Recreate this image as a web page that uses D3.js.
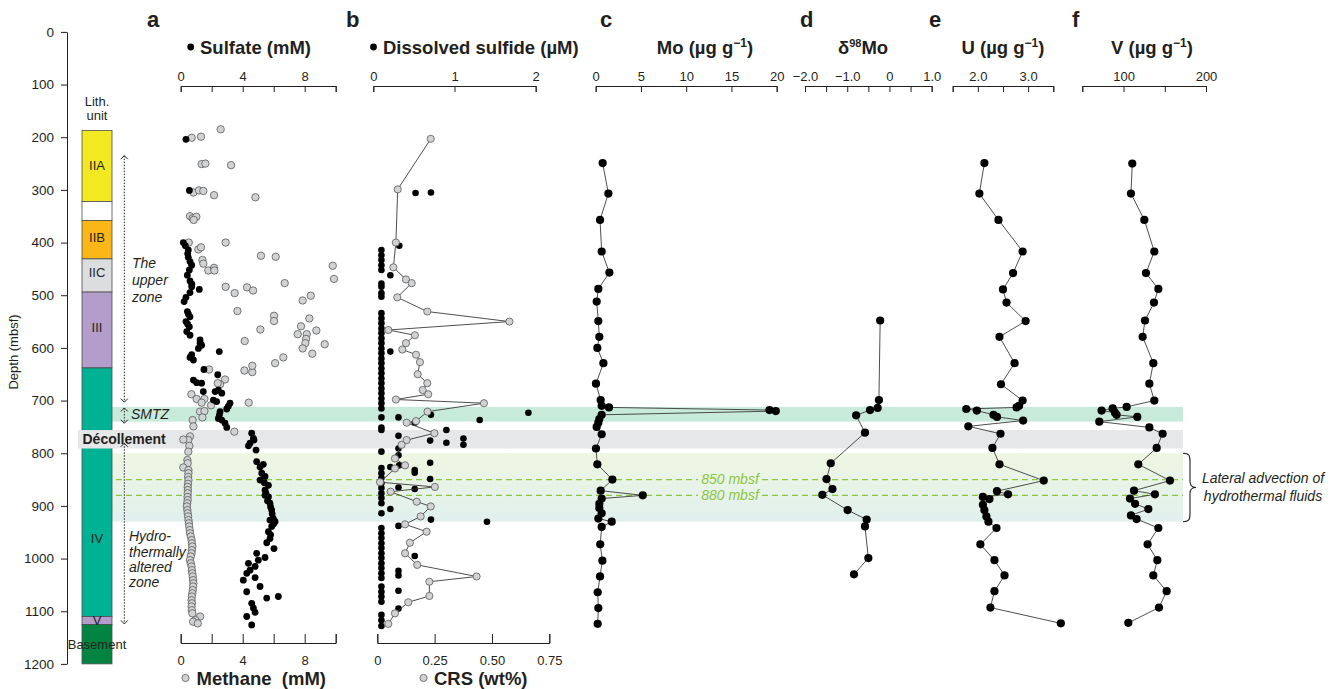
<!DOCTYPE html>
<html>
<head>
<meta charset="utf-8">
<script src="https://cdn.jsdelivr.net/npm/d3@7"></script>
<style>
  body { margin: 0; background: #fff; }
  svg text { font-family: "Liberation Sans", Arial, Helvetica, sans-serif; fill: #231f20; }
  .axis text { font-size: 13px; }
  .axis path, .axis line { stroke: #231f20; stroke-width: 1; }
</style>
</head>
<body>
<svg id="chart" width="1336" height="689"></svg>
<script>
// ---------- data (depth in mbsf) ----------
const depthTicks = [0, 100, 200, 300, 400, 500, 600, 700, 800, 900, 1000, 1100, 1200];

const unitNames = ["IIA", "", "IIB", "IIC", "III", "IV", "V", "Basement"];
const unitTop   = [187, 322, 358, 431, 494, 638, 1110, 1125];
const unitBase  = [322, 358, 431, 494, 638, 1110, 1125, 1200];
const unitLabelDepth = [254, null, 391, 456, 561, 962, 1117, 1163];

const smtzZone = [712, 740];
const decollementZone = [756, 791];
const advectionZone = [800, 930];
const markerDepths = [850, 880];

// panel a : [depth, mM]
const sulfate = [
  [204,0.34],[301,0.56],[400,0.17],[406,0.3],[414,0.49],[421,0.45],[428,0.49],[436,0.6],[443,0.71],
  [452,0.56],[462,0.43],[473,0.6],[479,0.72],[484,0.71],[489,1.2],[495,0.6],[504,0.34],[512,0.22],
  [531,0.43],[536,0.5],[541,0.6],[550,0.34],[555,0.45],[560,0.56],[569,0.39],[576,0.6],[585,1.25],
  [591,1.25],[595,1.35],[601,1.14],[607,2.49],[613,0.71],[618,0.6],[623,0.82],[641,1.5],[651,2.39],
  [661,0.82],[666,1.03],[667,1.35],[680,2.43],[683,1.46],[683,2.22],[686,2.65],[699,2.11],[702,2.32],
  [705,3.18],[711,3.07],[716,2.97],[721,2.54],[727,2.5],[734,2.43],[737,2.65],[743,2.86],[751,2.97],
  [762,4.58],[772,4.69],[775,4.73],[781,4.47],[786,4.37],[794,4.86],[816,4.9],[821,5.33],[826,5.12],
  [838,5.23],[844,5.44],[851,5.12],[856,5.4],[861,5.66],[870,5.44],[876,5.5],[880,5.44],[883,5.66],
  [890,5.6],[895,5.76],[902,5.8],[908,5.87],[915,5.9],[924,5.98],[927,5.76],[930,6.09],[934,6.0],
  [939,5.87],[949,5.66],[955,5.8],[962,5.76],[970,5.55],[981,6.02],[990,4.9],[998,5.44],[1003,5.01],
  [1009,4.37],[1015,4.8],[1022,4.47],[1028,4.26],[1036,4.8],[1041,4.04],[1053,5.12],[1063,4.26],
  [1072,6.3],[1075,5.55],[1085,4.58],[1094,4.69],[1102,4.8],[1110,4.26],[1126,4.58]
];
const methane = [
  [185,2.58],[201,0.71],[199,1.31],[251,1.35],[250,1.59],[253,3.25],[305,0.82],[301,1.18],[302,1.46],
  [310,2.15],[314,4.82],[350,0.6],[354,0.77],[351,1.01],[357,0.84],[400,0.52],[400,2.9],[413,1.14],
  [409,1.31],[425,5.18],[427,6.13],[433,1.4],[440,1.46],[444,9.81],[453,1.78],[448,2.15],[453,2.17],
  [469,9.89],[477,6.71],[484,2.9],[496,3.48],[485,4.28],[491,4.67],[501,8.39],[510,7.87],[530,3.66],
  [539,6.02],[549,6.02],[544,8.3],[565,5.14],[559,7.76],[574,7.55],[574,8.13],[567,8.75],[583,8.09],
  [593,9.29],[587,4.13],[591,8.04],[601,7.87],[618,6.62],[611,8.49],[629,6.09],[643,4.11],[646,4.62],
  [634,4.62],[641,1.83],[660,2.86],[669,2.54],[667,2.39],[688,0.69],[697,1.03],[697,1.53],[704,1.35],
  [704,4.39],[709,1.96],[721,1.25],[720,1.53],[732,1.4],[737,0.77],[749,0.82],[759,3.46],[768,0.6],
  [775,0.49],[774,0.17],[786,0.56],[797,0.49],[813,0.43],[819,0.45],[827,0.17],[832,0.5],[838,0.5],
  [845,0.48],[851,0.5],[858,0.47],[864,0.45],[870,0.46],[876,0.45],[883,0.44],[889,0.45],[895,0.42],
  [901,0.4],[908,0.43],[914,0.45],[920,0.48],[927,0.5],[933,0.53],[939,0.55],[946,0.58],[952,0.6],
  [958,0.65],[965,0.7],[971,0.72],[977,0.75],[984,0.72],[990,0.7],[996,0.65],[1003,0.6],[1009,0.65],
  [1015,0.7],[1022,0.72],[1028,0.75],[1034,0.78],[1041,0.8],[1047,0.82],[1053,0.8],[1060,0.78],
  [1066,0.75],[1072,0.72],[1079,0.7],[1085,0.72],[1091,0.7],[1098,0.72],[1104,0.75],[1110,1.25],
  [1117,0.95],[1120,0.8],[1123,1.1]
];

// panel b : dissolved sulfide [depth, µM] and CRS [depth, wt%]
const sulfide = [
  [305,0.71],[306,0.52],[406,0.32],[414,0.1],[424,0.1],[433,0.1],[443,0.1],[452,0.1],[462,0.21],
  [478,0.1],[484,0.1],[496,0.1],[503,0.1],[534,0.1],[544,0.1],[553,0.1],[563,0.1],[572,0.1],[582,0.1],
  [591,0.1],[601,0.1],[607,0.21],[610,0.1],[620,0.1],[629,0.1],[639,0.1],[648,0.1],[658,0.1],[667,0.1],
  [677,0.1],[686,0.1],[696,0.1],[705,0.1],[715,0.1],[723,1.91],[727,0.71],[732,0.1],[732,0.31],
  [737,1.31],[742,0.51],[751,0.1],[756,0.1],[756,0.9],[767,0.31],[772,1.11],[776,0.7],[780,0.9],
  [784,1.11],[791,0.31],[797,0.1],[804,0.31],[818,0.7],[823,0.32],[826,0.21],[828,0.1],[832,0.51],
  [837,0.51],[838,0.1],[847,0.1],[849,0.7],[857,0.1],[865,0.31],[866,0.1],[868,0.51],[876,0.1],
  [885,0.1],[895,0.1],[906,0.21],[914,0.1],[926,0.71],[930,1.4],[938,0.31],[942,0.1],[952,0.1],
  [961,0.1],[971,0.1],[980,0.1],[990,0.1],[995,0.51],[999,0.1],[1009,0.1],[1018,0.1],[1023,0.31],
  [1028,0.1],[1032,0.31],[1037,0.1],[1053,0.1],[1061,0.31],[1063,0.1],[1072,0.1],[1082,0.1],
  [1095,0.31],[1107,0.1],[1117,0.1],[1128,0.1]
];
const crs = [
  [203,0.233],[299,0.089],[400,0.081],[447,0.07],[470,0.125],[477,0.15],[504,0.087],[531,0.218],
  [550,0.576],[566,0.048],[576,0.164],[591,0.125],[603,0.109],[613,0.169],[627,0.186],[650,0.176],
  [667,0.218],[680,0.198],[688,0.222],[698,0.081],[705,0.465],[721,0.219],[739,0.169],[742,0.128],
  [762,0.249],[775,0.128],[784,0.106],[810,0.077],[823,0.121],[829,0.077],[855,0.012],[864,0.251],
  [873,0.058],[892,0.172],[901,0.233],[920,0.189],[935,0.121],[949,0.215],[970,0.142],[990,0.121],
  [1012,0.174],[1034,0.433],[1044,0.227],[1071,0.227],[1083,0.135],[1104,0.077],[1124,0.048]
];

// panels c-f
const mo = [
  [249,0.77],[307,1.4],[357,0.48],[417,0.66],[457,1.51],[488,0.29],[512,0.11],[549,0.29],[579,0.4],
  [600,0.18],[629,0.85],[668,0.03],[699,0.55],[710,0.66],[713,1.47],[718,19.2],[720,19.9],[727,0.66],
  [735,0.4],[742,0.29],[750,0.11],[764,0.66],[791,0.03],[821,0.18],[850,1.84],[871,0.55],[880,5.2],
  [886,0.66],[896,0.4],[904,0.4],[914,0.66],[924,0.29],[930,1.77],[940,0.66],[973,0.5],[1004,0.74],
  [1034,0.48],[1064,0.22],[1094,0.29],[1124,0.22]
];
const d98Mo = [
  [548,-0.22],[699,-0.25],[714,-0.28],[718,-0.46],[728,-0.79],[761,-0.58],[819,-1.39],[849,-1.49],
  [868,-1.35],[879,-1.59],[908,-0.99],[926,-0.54],[939,-0.58],[999,-0.5],[1030,-0.84]
];
const uran = [
  [249,2.13],[307,2.03],[357,2.41],[417,2.89],[458,2.7],[489,2.5],[514,2.57],[549,2.95],[579,2.43],
  [629,2.73],[669,2.46],[700,2.89],[710,2.82],[713,2.77],[716,1.77],[719,1.98],[727,2.31],[731,2.38],
  [738,2.9],[749,1.81],[763,2.45],[790,2.29],[821,2.43],[852,3.31],[872,2.38],[878,2.6],[883,2.1],
  [887,2.23],[898,2.1],[908,2.13],[920,2.17],[930,2.21],[942,2.37],[973,2.05],[1003,2.33],[1032,2.53],
  [1062,2.33],[1093,2.25],[1123,3.65]
];
const vana = [
  [250,110.6],[307,109],[357,125.2],[417,137.3],[458,127.2],[488,142.2],[514,136.9],[548,126],
  [579,123.2],[629,136.1],[668,131.3],[700,137.3],[712,103.8],[715,86.8],[719,73.4],[723,89.6],
  [727,91.6],[731,116.7],[740,70.6],[751,131.3],[763,147.4],[790,140.2],[821,117.9],[852,156.3],
  [871,112.7],[878,138.1],[886,107.8],[896,114],[906,130.1],[918,109],[925,115.9],[942,142.2],
  [973,129.2],[1003,141],[1032,136.1],[1062,152.3],[1093,143],[1122,105.8]
];

// ---------- layout ----------
const svg = d3.select("#chart");
const axisTopY = 86, axisBottomY = 643;
const bandLeft = 105, bandRight = 1183;

const y = d3.scaleLinear().domain([0, 1200]).range([31.9, 663.9]);

const xSulfate = d3.scaleLinear().domain([0, 10]).range([180.7, 335.7]);
const xMethane = d3.scaleLinear().domain([0, 10]).range([180.7, 335.7]);
const xSulfide = d3.scaleLinear().domain([0, 2]).range([373.3, 535.7]);
const xCrs = d3.scaleLinear().domain([0, 0.75]).range([377.3, 549.3]);
const xMo = d3.scaleLinear().domain([0, 20]).range([595.7, 776.7]);
const xD98 = d3.scaleLinear().domain([-2, 1]).range([805, 931.7]);
const xU = d3.scaleLinear().domain([1.5, 3.5]).range([952.7, 1053.3]);
const xV = d3.scaleLinear().domain([50, 200]).range([1082.3, 1206]);

const unitColors = { "IIA": "#f3e923", "": "#ffffff", "IIB": "#fbb718", "IIC": "#dcdddf",
  "III": "#b39dcb", "IV": "#00b294", "V": "#b39dcb", "Basement": "#00843f" };

// gradient for the advection band
const defs = svg.append("defs");
const grad = defs.append("linearGradient").attr("id", "advGrad")
  .attr("x1", 0).attr("y1", 0).attr("x2", 0).attr("y2", 1);
grad.append("stop").attr("offset", "0%").attr("stop-color", "#eef6e1");
grad.append("stop").attr("offset", "100%").attr("stop-color", "#e1f0ee");

// ---------- zone bands ----------
svg.append("rect")
  .attr("x", bandLeft).attr("width", bandRight - bandLeft)
  .attr("y", y(smtzZone[0])).attr("height", y(smtzZone[1]) - y(smtzZone[0]))
  .attr("fill", "#c8eadb");
svg.append("rect")
  .attr("x", bandLeft).attr("width", bandRight - bandLeft)
  .attr("y", y(advectionZone[0])).attr("height", y(advectionZone[1]) - y(advectionZone[0]))
  .attr("fill", "url(#advGrad)");

// dashed marker lines, broken where the label sits
markerDepths.forEach(d => {
  [[bandLeft + 1, 698], [762, bandRight]].forEach(seg => {
    svg.append("line")
      .attr("x1", seg[0]).attr("x2", seg[1])
      .attr("y1", y(d)).attr("y2", y(d))
      .attr("stroke", "#8dc63f").attr("stroke-width", 1.2)
      .attr("stroke-dasharray", "6,4");
  });
  svg.append("text")
    .attr("x", 730).attr("y", y(d)).attr("dy", "0.35em")
    .attr("text-anchor", "middle")
    .style("font-size", "14px").style("font-style", "italic").style("fill", "#8dc63f")
    .text(d + " mbsf");
});

// ---------- lithology column ----------
const colX = 82, colW = 30;
svg.selectAll(".unit")
  .data(unitNames)
  .enter().append("rect")
  .attr("class", "unit")
  .attr("x", colX).attr("width", colW)
  .attr("y", (d, i) => y(unitTop[i]))
  .attr("height", (d, i) => y(unitBase[i]) - y(unitTop[i]))
  .attr("fill", d => unitColors[d])
  .attr("stroke", "#4d4d4f").attr("stroke-width", 0.8);

svg.selectAll(".unitLabel")
  .data(unitNames.filter(n => n !== ""))
  .enter().append("text")
  .attr("class", "unitLabel")
  .attr("x", colX + colW / 2)
  .attr("y", d => y(unitLabelDepth[unitNames.indexOf(d)]))
  .attr("dy", "0.35em").attr("text-anchor", "middle")
  .style("font-size", "13px")
  .text(d => d);

svg.append("text").attr("x", 97).attr("y", 101).attr("dy", "0.35em")
  .attr("text-anchor", "middle").style("font-size", "13px").text("Lith.");
svg.append("text").attr("x", 97).attr("y", 115).attr("dy", "0.35em")
  .attr("text-anchor", "middle").style("font-size", "13px").text("unit");

// décollement band sits over the column
svg.append("rect")
  .attr("x", 78).attr("width", bandRight - 78)
  .attr("y", y(decollementZone[0])).attr("height", y(decollementZone[1]) - y(decollementZone[0]))
  .attr("fill", "#e6e7e8");
svg.append("text")
  .attr("x", 82.5).attr("y", y(774)).attr("dy", "0.35em")
  .style("font-size", "14px").style("font-weight", "bold")
  .text("Décollement");

// ---------- zone arrows and notes ----------
const arrowX = 124.3;
function dottedArrow(d0, d1) {
  const g = svg.append("g").attr("stroke", "#231f20").attr("fill", "none");
  g.append("line").attr("x1", arrowX).attr("x2", arrowX)
    .attr("y1", y(d0)).attr("y2", y(d1))
    .attr("stroke-width", 1).attr("stroke-dasharray", "1.5,1.5");
  g.append("path").attr("stroke-width", 1)
    .attr("d", `M${arrowX - 3.5},${y(d0) + 3.5}L${arrowX},${y(d0)}L${arrowX + 3.5},${y(d0) + 3.5}`);
  g.append("path").attr("stroke-width", 1)
    .attr("d", `M${arrowX - 3.5},${y(d1) - 3.5}L${arrowX},${y(d1)}L${arrowX + 3.5},${y(d1) - 3.5}`);
}
dottedArrow(235, 703);
dottedArrow(714, 743);
dottedArrow(781, 1124);

function noteLines(lines, x, d0, step) {
  lines.forEach((t, i) => {
    svg.append("text").attr("x", x).attr("y", y(d0) + i * step).attr("dy", "0.35em")
      .style("font-size", "14px").style("font-style", "italic").text(t);
  });
}
noteLines(["The", "upper", "zone"], 132, 439, 17);
noteLines(["SMTZ"], 131, 726, 0);
noteLines(["Hydro-", "thermally", "altered", "zone"], 129, 958, 15.3);

// ---------- depth axis ----------
svg.append("g").attr("class", "axis")
  .attr("transform", "translate(67,0)")
  .call(d3.axisLeft(y).tickValues(depthTicks).tickFormat(d3.format("d"))
    .tickSizeInner(6).tickSizeOuter(0).tickPadding(7))
  .selectAll("text").style("font-size", "13.5px");

svg.append("text")
  .attr("transform", "translate(18,352) rotate(-90)")
  .attr("text-anchor", "middle")
  .style("font-size", "13px")
  .text("Depth (mbsf)");

// ---------- panel axes ----------
function topAxis(scale, ticks, labeled, fmt) {
  svg.append("g").attr("class", "axis")
    .attr("transform", "translate(0," + axisTopY + ")")
    .call(d3.axisTop(scale).tickValues(ticks)
      .tickSizeInner(-6).tickSizeOuter(-6).tickPadding(5)
      .tickFormat(d => labeled.includes(d) ? fmt(d) : ""));
}
function bottomAxis(scale, ticks, labeled, fmt) {
  svg.append("g").attr("class", "axis")
    .attr("transform", "translate(0," + axisBottomY + ")")
    .call(d3.axisBottom(scale).tickValues(ticks)
      .tickSizeInner(-9).tickSizeOuter(-9).tickPadding(13)
      .tickFormat(d => labeled.includes(d) ? fmt(d) : ""));
}
const minusFmt = f => d => d3.format(f)(d).replace("-", "\u2212");

topAxis(xSulfate, [0, 2, 4, 6, 8, 10], [0, 4, 8], d3.format("d"));
bottomAxis(xMethane, [0, 2, 4, 6, 8, 10], [0, 4, 8], d3.format("d"));
topAxis(xSulfide, [0, 1, 2], [0, 1, 2], d3.format("d"));
bottomAxis(xCrs, [0, 0.25, 0.5, 0.75], [0, 0.25, 0.5, 0.75], d => d === 0 ? "0" : d3.format(".2f")(d));
topAxis(xMo, [0, 5, 10, 15, 20], [0, 5, 10, 15, 20], d3.format("d"));
topAxis(xD98, [-2, -1.5, -1, -0.5, 0, 0.5, 1], [-2, -1, 0, 1], d => d === 0 ? "0" : minusFmt(".1f")(d));
topAxis(xU, [1.5, 2, 2.5, 3, 3.5], [2, 3], d3.format(".1f"));
topAxis(xV, [50, 100, 150, 200], [100, 200], d3.format("d"));

// ---------- titles ----------
const letters = [["a", 147], ["b", 346], ["c", 600], ["d", 800], ["e", 929], ["f", 1072]];
letters.forEach(l => {
  svg.append("text").attr("x", l[1]).attr("y", 27)
    .style("font-size", "22px").style("font-weight", "bold").text(l[0]);
});

function title(x, yy, anchor, parts) {
  const t = svg.append("text").attr("x", x).attr("y", yy)
    .attr("text-anchor", anchor)
    .style("font-size", "18.5px").style("font-weight", "bold");
  parts.forEach(p => {
    const s = t.append("tspan").text(p[0]);
    if (p[1]) s.attr("dy", p[1]);
    if (p[2]) s.style("font-size", p[2]);
  });
}
title(200, 53.5, "start", [["Sulfate (mM)"]]);
title(383, 53.5, "start", [["Dissolved sulfide (\u00b5M)"]]);
title(705, 53.5, "middle", [["Mo (\u00b5g g"], ["\u22121", -7, "12px"], [")", 7]]);
title(863, 53.5, "middle", [["\u03b4"], ["98", -7, "11px"], ["Mo", 7]]);
title(1003, 53.5, "middle", [["U (\u00b5g g"], ["\u22121", -7, "12px"], [")", 7]]);
title(1152, 53.5, "middle", [["V (\u00b5g g"], ["\u22121", -7, "12px"], [")", 7]]);
title(196.5, 684.5, "start", [["Methane\u00a0 (mM)"]]);
title(434, 684.5, "start", [["CRS (wt%)"]]);

// legend bullets
svg.append("circle").attr("cx", 190.7).attr("cy", 47).attr("r", 3.4).attr("fill", "#000");
svg.append("circle").attr("cx", 373.5).attr("cy", 47).attr("r", 3.4).attr("fill", "#000");
svg.append("circle").attr("cx", 185.5).attr("cy", 678).attr("r", 3.6)
  .attr("fill", "#d1d2d4").attr("stroke", "#58595b").attr("stroke-width", 0.8);
svg.append("circle").attr("cx", 423.5).attr("cy", 678).attr("r", 3.6)
  .attr("fill", "#d1d2d4").attr("stroke", "#58595b").attr("stroke-width", 0.8);

// ---------- data marks ----------
function profileLine(data, xs) {
  const line = d3.line().x(d => xs(d[1])).y(d => y(d[0]));
  svg.append("path").attr("d", line(data))
    .attr("fill", "none").attr("stroke", "#3a3a3a").attr("stroke-width", 0.9);
}
function dots(data, xs, r, gray) {
  svg.append("g").selectAll("circle")
    .data(data)
    .enter().append("circle")
    .attr("cx", d => xs(d[1]))
    .attr("cy", d => y(d[0]))
    .attr("r", r)
    .attr("fill", gray ? "#d1d2d4" : "#000")
    .attr("stroke", gray ? "#58595b" : "none")
    .attr("stroke-width", 0.8);
}

// panel a
dots(methane, xMethane, 3.7, true);
dots(sulfate, xSulfate, 3.4, false);

// panel b
dots(sulfide, xSulfide, 3.3, false);
profileLine(crs, xCrs);
dots(crs, xCrs, 3.6, true);

// panels c-f
[[mo, xMo], [d98Mo, xD98], [uran, xU], [vana, xV]].forEach(p => {
  profileLine(p[0], p[1]);
  dots(p[0], p[1], 4.1, false);
});

// ---------- lateral advection brace ----------
const b0 = y(advectionZone[0]), b1 = y(advectionZone[1]), bm = (b0 + b1) / 2;
svg.append("path")
  .attr("d", `M1183,${b0} C1189,${b0} 1190,${b0 + 2} 1190,${b0 + 8} L1190,${bm - 6}` +
             ` C1190,${bm - 2} 1192,${bm} 1196,${bm} C1192,${bm} 1190,${bm + 2} 1190,${bm + 6}` +
             ` L1190,${b1 - 8} C1190,${b1 - 2} 1189,${b1} 1183,${b1}`)
  .attr("fill", "none").attr("stroke", "#231f20").attr("stroke-width", 1.1);
svg.append("text").attr("x", 1263).attr("y", bm - 9).attr("dy", "0.35em")
  .attr("text-anchor", "middle").style("font-size", "14px").style("font-style", "italic")
  .text("Lateral advection of");
svg.append("text").attr("x", 1263).attr("y", bm + 8.5).attr("dy", "0.35em")
  .attr("text-anchor", "middle").style("font-size", "14px").style("font-style", "italic")
  .text("hydrothermal fluids");
</script>
</body>
</html>
